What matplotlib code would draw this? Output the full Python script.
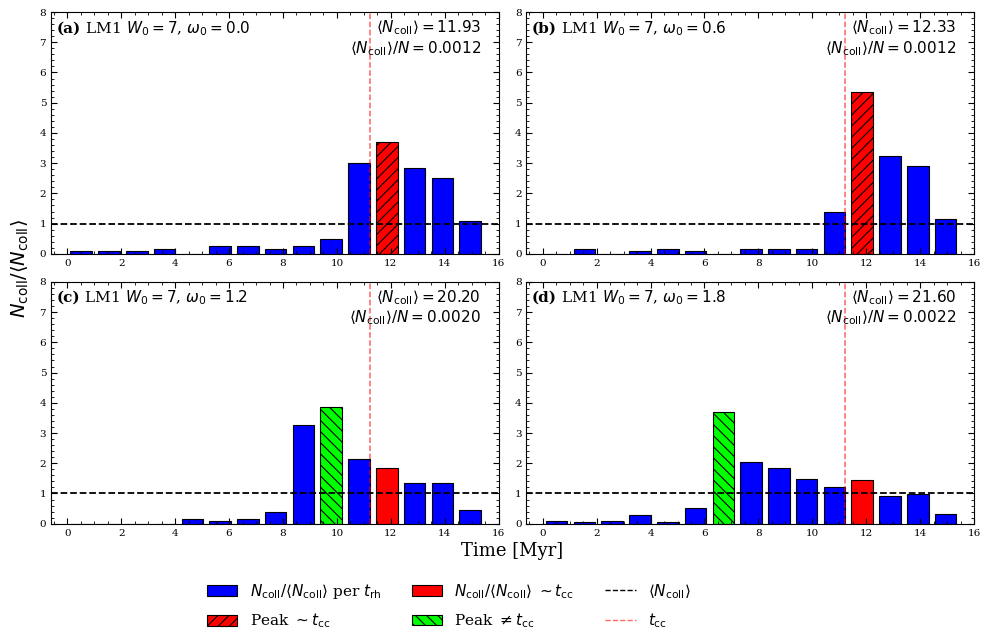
import numpy as np
import matplotlib
matplotlib.use('Agg')
import matplotlib.pyplot as plt
from matplotlib.ticker import AutoMinorLocator, MultipleLocator
from matplotlib.patches import Patch
from matplotlib.lines import Line2D

plt.rcParams['font.family'] = 'serif'
plt.rcParams['font.serif'] = ['DejaVu Serif']
plt.rcParams['mathtext.fontset'] = 'dejavusans'
plt.rcParams['hatch.linewidth'] = 0.8

# bin centres [Myr] (one bin per t_rh)
t_mid = [0.52, 1.55, 2.58, 3.61, 4.64, 5.67, 6.70, 7.73, 8.76, 9.79,
         10.82, 11.85, 12.88, 13.91, 14.94]
t_cc = 11.22

# N_coll / <N_coll> per bin
ratio_a = [0.08, 0.08, 0.08, 0.17, 0.0, 0.25, 0.25, 0.17, 0.25, 0.50, 3.02, 3.69, 2.85, 2.51, 1.09]
ratio_b = [0.0, 0.16, 0.0, 0.08, 0.16, 0.08, 0.0, 0.16, 0.16, 0.16, 1.38, 5.35, 3.24, 2.92, 1.14]
ratio_c = [0.0, 0.0, 0.0, 0.0, 0.15, 0.10, 0.15, 0.40, 3.27, 3.86, 2.13, 1.83, 1.34, 1.34, 0.45]
ratio_d = [0.09, 0.05, 0.09, 0.28, 0.05, 0.51, 3.70, 2.04, 1.85, 1.48, 1.20, 1.44, 0.93, 0.97, 0.32]

panels = ['(a)', '(b)', '(c)', '(d)']
omega0 = ['0.0', '0.6', '1.2', '1.8']
mean_ncoll = ['11.93', '12.33', '20.20', '21.60']
mean_frac = ['0.0012', '0.0012', '0.0020', '0.0022']
peak_bin = [11, 11, 9, 6]
tcc_bin = [11, 11, 11, 11]
ratios = [ratio_a, ratio_b, ratio_c, ratio_d]

fig, axes = plt.subplots(2, 2, figsize=(9.82, 6.34), dpi=100)
fig.subplots_adjust(left=0.052, right=0.992, top=0.981, bottom=0.174,
                    wspace=0.062, hspace=0.116)

for k, ax in enumerate(axes.flat):
    r = ratios[k]
    colors = ['blue'] * len(r)
    hatches = [None] * len(r)
    colors[tcc_bin[k]] = 'red'
    if peak_bin[k] == tcc_bin[k]:
        hatches[peak_bin[k]] = '///'
    else:
        colors[peak_bin[k]] = 'lime'
        hatches[peak_bin[k]] = '\\\\\\'
    bars = ax.bar(t_mid, r, width=0.8, color=colors, edgecolor='black', linewidth=0.8)
    for b, h in zip(bars, hatches):
        if h:
            b.set_hatch(h)

    ax.axhline(1.0, color='black', ls='--', lw=1.3)
    ax.axvline(t_cc, color='red', ls='--', lw=1.1, alpha=0.6)

    ax.set_xlim(-0.6, 16)
    ax.set_ylim(0, 8)
    ax.xaxis.set_major_locator(MultipleLocator(2))
    ax.yaxis.set_major_locator(MultipleLocator(1))
    ax.xaxis.set_minor_locator(AutoMinorLocator(4))
    ax.yaxis.set_minor_locator(AutoMinorLocator(5))
    ax.tick_params(which='both', direction='in', top=True, right=True, labelsize=7.5)
    ax.tick_params(which='major', length=4)
    ax.tick_params(which='minor', length=2)

    t1 = ax.text(0.012, 0.933, panels[k], transform=ax.transAxes, fontsize=11,
                 fontweight='bold', va='center', ha='left')
    ax.annotate(r' LM1 $W_0 = 7$, $\omega_0 = %s$' % omega0[k], xy=(1, 0.5),
                xycoords=t1, va='center', ha='left', fontsize=11)
    ax.text(0.96, 0.975,
            r'$\langle N_{\rm coll}\rangle = %s$' % mean_ncoll[k] + '\n' +
            r'$\langle N_{\rm coll}\rangle/N = %s$' % mean_frac[k],
            transform=ax.transAxes, ha='right', va='top', fontsize=11,
            linespacing=1.15)

fig.text(0.521, 0.131, 'Time [Myr]', ha='center', va='center', fontsize=13)
fig.text(0.021, 0.577, r'$N_{\rm coll}/\langle N_{\rm coll}\rangle$', rotation=90,
         ha='center', va='center', fontsize=14)

handles = [
    Patch(facecolor='blue', edgecolor='black', lw=0.8),
    Patch(facecolor='red', edgecolor='black', lw=0.8, hatch='///'),
    Patch(facecolor='red', edgecolor='black', lw=0.8),
    Patch(facecolor='lime', edgecolor='black', lw=0.8, hatch='\\\\\\'),
    Line2D([], [], color='black', ls='--', lw=1.0),
    Line2D([], [], color='red', ls='--', lw=1.0, alpha=0.6),
]
labels = [
    r'$N_{\rm coll}/\langle N_{\rm coll}\rangle$ per $t_{\rm rh}$',
    r'Peak $\sim t_{\rm cc}$',
    r'$N_{\rm coll}/\langle N_{\rm coll}\rangle$ $\sim t_{\rm cc}$',
    r'Peak $\neq t_{\rm cc}$',
    r'$\langle N_{\rm coll}\rangle$',
    r'$t_{\rm cc}$',
]
fig.legend(handles, labels, ncol=3, loc='upper center', bbox_to_anchor=(0.457, 0.104),
           frameon=False, fontsize=11, labelspacing=0.7)

fig.savefig('out.png', dpi=100)
